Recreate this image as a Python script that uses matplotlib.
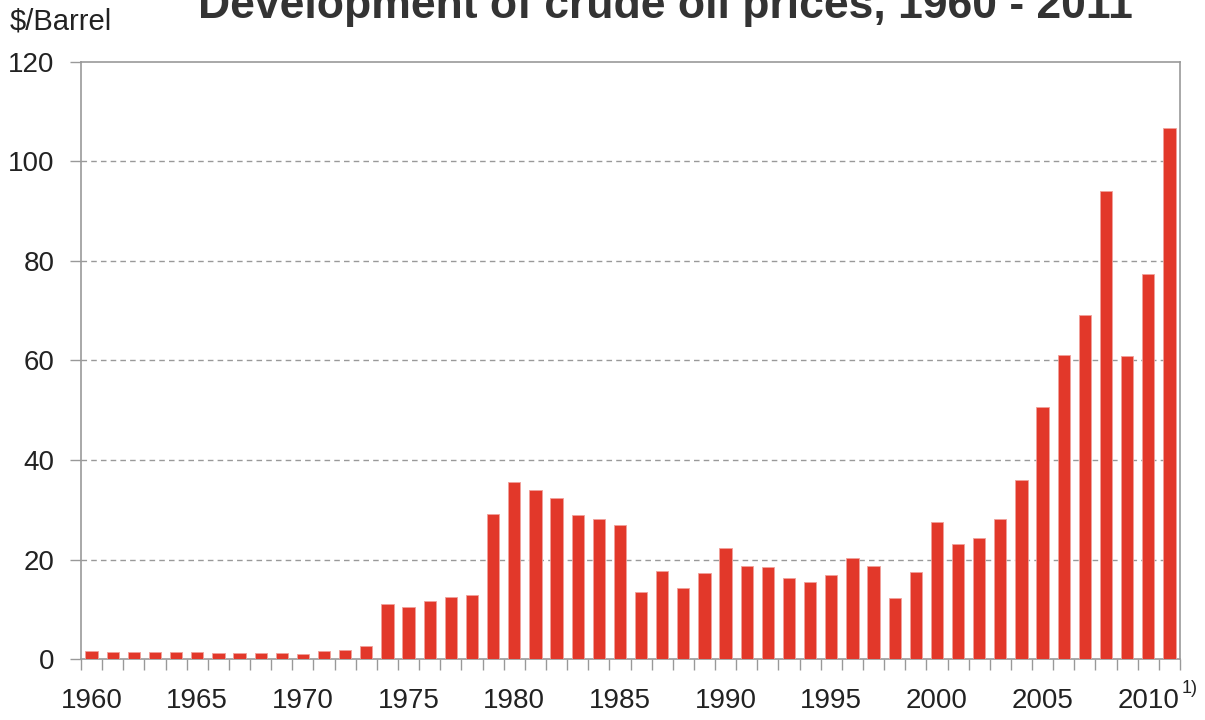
import matplotlib
matplotlib.use("Agg")
import matplotlib.pyplot as plt
import numpy as np

plt.rcParams['font.family'] = ['Liberation Sans', 'DejaVu Sans']

years = list(range(1960, 2012))
prices = [1.6, 1.5, 1.5, 1.5, 1.4, 1.4, 1.3, 1.3, 1.3, 1.2,
          1.1, 1.7, 1.8, 2.7, 11.0, 10.4, 11.6, 12.4, 12.8, 29.2,
          35.5, 34.0, 32.4, 29.0, 28.2, 27.0, 13.5, 17.7, 14.2, 17.3,
          22.3, 18.6, 18.4, 16.3, 15.5, 16.9, 20.3, 18.7, 12.3, 17.5,
          27.6, 23.1, 24.4, 28.1, 36.0, 50.6, 61.1, 69.1, 94.1, 60.9,
          77.4, 106.8]
tick_years = [1960, 1965, 1970, 1975, 1980, 1985, 1990, 1995, 2000, 2005, 2010]
yticks = [0, 20, 40, 60, 80, 100, 120]

fig = plt.figure(figsize=(12.05, 7.2), dpi=100)
ax = fig.add_axes([81/1205, 1 - 659/720, (1180-81)/1205, (659-62)/720])

x = np.arange(len(years))
ax.bar(x, prices, width=0.58, color='#E2382A', edgecolor='#F0A09A', linewidth=0.6, zorder=3)

ax.set_xlim(-0.5, len(years) - 0.5)
ax.set_ylim(0, 120)
ax.set_yticks(yticks)
ax.set_yticklabels([str(v) for v in yticks], fontsize=20, color='#222222')
for v in yticks[1:-1]:
    ax.axhline(v, color='#999999', linestyle=(0, (4, 3)), linewidth=1.0, zorder=1)

# category boundary ticks
ax.set_xticks(np.arange(-0.5, len(years) + 0.5, 1.0))
ax.set_xticklabels([])
ax.tick_params(axis='x', direction='out', length=8, width=1.0, color='#999999')
ax.tick_params(axis='y', direction='out', length=8, width=1.0, color='#999999', pad=11)

for ty in tick_years:
    i = years.index(ty)
    ax.text(i, -8.5, str(ty), ha='center', va='center', fontsize=20, color='#222222',
            transform=ax.transData, clip_on=False)
ax.text(len(years) - 0.4, -5.9, '1)', ha='left', va='center', fontsize=13, color='#222222',
        transform=ax.transData, clip_on=False)

for s in ax.spines.values():
    s.set_color('#999999')
    s.set_linewidth(1.2)

fig.text(10/1205, 1 - 21/720, '$/Barrel', ha='left', va='center', fontsize=21, color='#222222')
fig.text(665/1205, 1 - 18/720, 'Development of crude oil prices, 1960 - 2011', ha='center', va='baseline',
         fontsize=32, fontweight='bold', color='#333333')

fig.savefig('out.png', dpi=100)
